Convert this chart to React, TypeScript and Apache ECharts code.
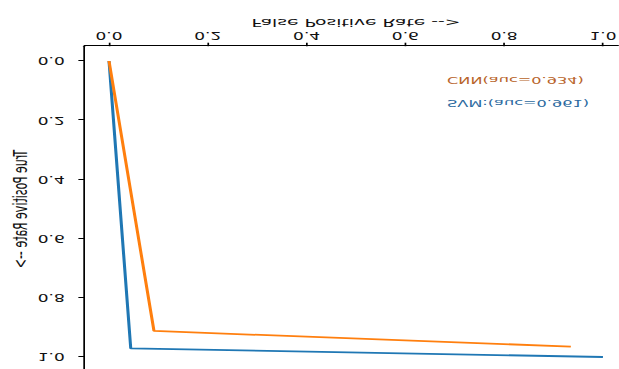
import React, { useEffect, useRef } from "react";
import * as echarts from "echarts";

const tickValues = [0, 0.2, 0.4, 0.6, 0.8, 1.0];
const svmFpr = [0.0, 0.044, 1.0];
const svmTpr = [0.0, 0.971, 1.0];
const cnnFpr = [0.0, 0.091, 0.935];
const cnnTpr = [0.0, 0.912, 0.965];
const svmLabel = "SVM:(auc=0.961)";
const cnnLabel = "CNN(auc=0.934)";
const xTitle = "False Positive Rate -->";
const yTitle = "True Positive Rate -->";

const SX = 1.7;
const W = 619 / SX;
const H = 369;
const FONT = "DejaVu Sans";

export default function App() {
  const ref = useRef<HTMLDivElement>(null);
  useEffect(() => {
    if (!ref.current) return;
    const chart = echarts.init(ref.current, null, { renderer: "svg" });
    const axisCommon = (name: string, gap: number, labelMargin: number) => ({
      type: "value" as const,
      min: -0.05,
      max: 1.05,
      name,
      nameLocation: "middle" as const,
      nameGap: gap,
      nameMoveOverlap: false,
      nameTextStyle: { fontFamily: FONT, fontSize: 11, color: "#111" },
      axisLine: { show: true, onZero: false, lineStyle: { color: "#000", width: 1 } },
      axisTick: {
        show: true,
        inside: false,
        length: 3.5,
        customValues: tickValues,
        lineStyle: { color: "#000", width: 1 },
      },
      axisLabel: {
        customValues: tickValues,
        margin: labelMargin,
        fontFamily: FONT,
        fontSize: 10,
        color: "#111",
        formatter: (v: number) => v.toFixed(1),
      },
      splitLine: { show: false },
    });
    chart.setOption({
      animation: false,
      backgroundColor: "#fff",
      grid: {
        left: 49.6,
        top: -2.8,
        width: 319.6,
        height: 325.6,
        containLabel: false,
        outerBoundsMode: "none",
      },
      xAxis: axisCommon(xTitle, 18, 6),
      yAxis: axisCommon(yTitle, 32, 11.5),
      series: [
        {
          name: svmLabel,
          type: "line",
          data: svmFpr.map((x, i) => [x, svmTpr[i]]),
          showSymbol: false,
          lineStyle: { color: "#1f77b4", width: 1.8 },
          itemStyle: { color: "#1f77b4" },
        },
        {
          name: cnnLabel,
          type: "line",
          data: cnnFpr.map((x, i) => [x, cnnTpr[i]]),
          showSymbol: false,
          lineStyle: { color: "#ff7f0e", width: 1.8 },
          itemStyle: { color: "#ff7f0e" },
        },
      ],
      graphic: [
        {
          type: "text",
          left: 263,
          top: 266.3 - 6,
          style: { text: svmLabel, fill: "#2c6aa0", font: `9.5px "${FONT}"` },
        },
        {
          type: "text",
          left: 263,
          top: 290 - 6,
          style: { text: cnnLabel, fill: "#b8642a", font: `9.5px "${FONT}"` },
        },
      ],
    });
    return () => chart.dispose();
  }, []);
  return (
    <div
      ref={ref}
      style={{
        position: "absolute",
        left: 0,
        top: 0,
        width: W,
        height: H,
        transform: `scale(${SX}, -1)`,
        transformOrigin: "0 50%",
      }}
    />
  );
}
